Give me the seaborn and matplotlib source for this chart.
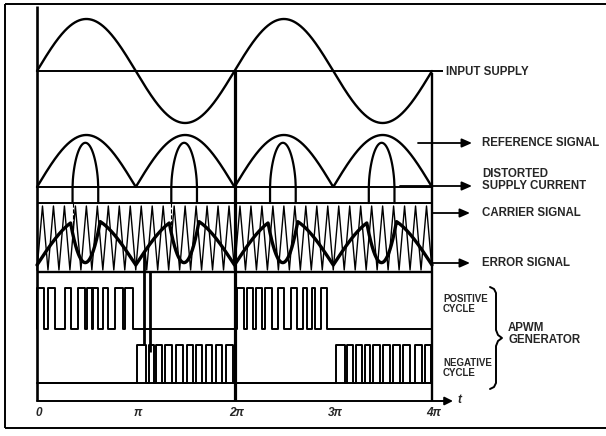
import numpy as np
import pandas as pd
import matplotlib
matplotlib.use("Agg")
import matplotlib.pyplot as plt
import seaborn as sns

sns.set_theme(style="white")
plt.rcParams['font.family'] = ['Liberation Sans Narrow', 'Liberation Sans', 'DejaVu Sans']

# ---------------- data (time in units of pi) ----------------
tick_pos = [0, 1, 2, 3, 4]
tick_labels = ["0", "π", "2π", "3π", "4π"]
axis_label = "t"
signal_labels = ["INPUT SUPPLY", "REFERENCE SIGNAL", "DISTORTED\nSUPPLY CURRENT",
                 "CARRIER SIGNAL", "ERROR SIGNAL"]
gate_labels = ["POSITIVE\nCYCLE", "NEGATIVE\nCYCLE"]
group_label = "APWM\nGENERATOR"

half_cycles = [0, 1, 2, 3]                 # start of each half cycle (pi units)
current_window = [0.36, 0.62]              # conduction interval inside each half cycle
current_peak = 0.85                        # distorted current peak / reference peak
error_window = [0.34, 0.64]                # dip interval of the error signal
error_dip = 0.95                           # depth of the error-signal dip
carrier_teeth_per_pi = 9

pos_pulses = [(0.00, 0.07), (0.11, 0.18), (0.28, 0.34), (0.42, 0.49), (0.51, 0.56),
              (0.57, 0.62), (0.67, 0.72), (0.79, 0.87), (0.89, 0.97),
              (2.03, 2.10), (2.13, 2.19), (2.22, 2.28), (2.31, 2.38), (2.44, 2.50),
              (2.57, 2.63), (2.69, 2.73), (2.78, 2.82), (2.88, 2.94)]
neg_pulses = [(1.01, 1.10), (1.13, 1.18), (1.21, 1.27), (1.30, 1.37), (1.41, 1.48),
              (1.52, 1.58), (1.61, 1.67), (1.71, 1.77), (1.81, 1.87), (1.91, 1.98),
              (3.03, 3.12), (3.14, 3.20), (3.23, 3.29), (3.32, 3.37), (3.40, 3.47),
              (3.50, 3.57), (3.60, 3.68), (3.71, 3.78), (3.83, 3.90), (3.93, 3.99)]

# ---------------- layout (pixel rows) ----------------
W, H = 606, 436
X0, PXPI = 37.0, 98.75
def px(x):
    return (x - X0) / PXPI

IN_BASE, IN_AMP = 71, 52
REF_BASE, REF_AMP = 187, 52
SEP1 = 203
CAR_TOP, CAR_BOT = 206, 270
SEP2 = 272
ERR_BASE, ERR_AMP = 265, 48
POS_TOP, POS_BASE = 288, 329
NEG_TOP, NEG_BASE = 345, 383
AXIS_Y = 401

fig = plt.figure(figsize=(W / 100, H / 100), dpi=100)
ax = fig.add_axes([0, 0, 1, 1])
ax.set_xlim(px(0), px(W))
ax.set_ylim(H, 0)
ax.axis("off")

K = "black"

def draw(df, lw, units=None, ls="-"):
    sns.lineplot(data=df, x="t", y="y", units=units, estimator=None, sort=False,
                 color=K, lw=lw, ls=ls, ax=ax, legend=False)

t = np.linspace(0, 4, 2000)

# input supply
draw(pd.DataFrame({"t": t, "y": IN_BASE - IN_AMP * np.sin(np.pi * t)}), 1.7)

# reference signal (full-wave rectified)
draw(pd.DataFrame({"t": t, "y": REF_BASE - REF_AMP * np.abs(np.sin(np.pi * t))}), 1.7)

# distorted supply current pulses
a, b = current_window
c, w = (a + b) / 2, (b - a) / 2
rows = []
for k in half_cycles:
    u = np.linspace(a, b, 80)
    shape = np.clip(1 - ((u - c) / w) ** 2, 0, 1) ** 0.6
    yy = REF_BASE - REF_AMP * current_peak * shape
    tt = np.concatenate([[k + a], k + u, [k + b]])
    yy = np.concatenate([[SEP1], yy, [SEP1]])
    rows.append(pd.DataFrame({"t": tt, "y": yy, "seg": k}))
draw(pd.concat(rows), 1.6, units="seg")

# carrier (triangle)
tc = np.arange(0, 4 * carrier_teeth_per_pi + 1) / carrier_teeth_per_pi
tc2 = np.sort(np.concatenate([tc, tc[:-1] + 0.5 / carrier_teeth_per_pi]))
ycar = np.where(np.isclose((tc2 * carrier_teeth_per_pi) % 1, 0.5), CAR_TOP, CAR_BOT)
draw(pd.DataFrame({"t": tc2, "y": ycar}), 1.0)

# error signal = reference - distorted current
ea, eb = error_window
ec, ew = (ea + eb) / 2, (eb - ea) / 2
frac = t % 1
pulse = np.where((frac > ea) & (frac < eb), np.clip(1 - ((frac - ec) / ew) ** 2, 0, 1), 0)
err = np.clip(np.abs(np.sin(np.pi * t)) - error_dip * pulse, 0, None)
draw(pd.DataFrame({"t": t, "y": ERR_BASE - ERR_AMP * err}), 2.4)

# gate pulse trains
def pulse_train(edges, lo, hi, base, top):
    xs, ys = [lo], [base]
    for s, e in edges:
        xs += [s, s, e, e]
        ys += [base, top, top, base]
    xs.append(hi); ys.append(base)
    return pd.DataFrame({"t": xs, "y": ys})

draw(pulse_train(pos_pulses, 0, 4, POS_BASE, POS_TOP), 1.4)
draw(pulse_train(neg_pulses, 0, 4, NEG_BASE, NEG_TOP), 1.4)

# frame / grid lines
def hline(y, x1, x2, lw=1.4):
    ax.plot([px(x1), px(x2)], [y, y], color=K, lw=lw, solid_capstyle="butt")
def vline(x, y1, y2, lw=1.4, ls="-"):
    ax.plot([px(x), px(x)], [y1, y2], color=K, lw=lw, ls=ls, solid_capstyle="butt")

hline(IN_BASE, 37, 443)
hline(REF_BASE, 37, 432)
hline(SEP1, 37, 432)
hline(SEP2, 37, 432, 1.7)
hline(NEG_BASE, 37, 432)
vline(37, 6, AXIS_Y, 1.9)
vline(234.5, IN_BASE, AXIS_Y, 2.3)
vline(432, IN_BASE + 2, AXIS_Y, 1.7)
vline(144, 252, 345, 2.0)
vline(150, 272, 352, 2.0)
vline(73, SEP1, 232, 0.8, "--")
vline(171, SEP1, 232, 0.8, "--")

# outer border
hline(4, 5, 606, 1.4)
hline(428, 5, 606, 1.4)
vline(5, 4, 428, 1.4)

# time axis arrow
ax.annotate("", xy=(px(453), AXIS_Y), xytext=(px(37), AXIS_Y),
            arrowprops=dict(arrowstyle="-|>,head_length=0.4,head_width=0.2",
                            color=K, lw=1.4, shrinkA=0, shrinkB=0))
ax.text(px(458), AXIS_Y - 1, axis_label, fontsize=8.5, fontweight="bold",
        ha="left", va="center", style="italic")
for p, lab in zip(tick_pos, tick_labels):
    ax.text(p + 0.02, 413, lab, fontsize=8.5, fontweight="bold", style="italic",
            ha="center", va="center")

# right-hand labels with arrows
def arrow(x1, x2, y):
    ax.annotate("", xy=(px(x2), y), xytext=(px(x1), y),
                arrowprops=dict(arrowstyle="-|>,head_length=0.5,head_width=0.22",
                                color=K, lw=1.3, shrinkA=0, shrinkB=0))

FS = 8.3
ax.text(px(446), IN_BASE + 1, signal_labels[0], fontsize=FS, fontweight="bold",
        ha="left", va="center")
arrow(418, 472, 143)
ax.text(px(482), 143, signal_labels[1], fontsize=FS, fontweight="bold",
        ha="left", va="center")
arrow(400, 472, 186)
ax.text(px(482), 180, signal_labels[2], fontsize=FS, fontweight="bold",
        ha="left", va="center", linespacing=1.0)
arrow(432, 470, 213)
ax.text(px(482), 213, signal_labels[3], fontsize=FS, fontweight="bold",
        ha="left", va="center")
arrow(432, 470, 263)
ax.text(px(482), 263, signal_labels[4], fontsize=FS, fontweight="bold",
        ha="left", va="center")

ax.text(px(443), 304, gate_labels[0], fontsize=7, fontweight="bold",
        ha="left", va="center", linespacing=1.0)
ax.text(px(443), 368, gate_labels[1], fontsize=7, fontweight="bold",
        ha="left", va="center", linespacing=1.0)
ax.text(px(508), 334, group_label, fontsize=FS, fontweight="bold",
        ha="left", va="center", linespacing=1.05)

# curly brace
by = np.array([287, 289, 293, 330, 335, 338, 341, 346, 383, 387, 389])
bx = np.array([490, 494, 496, 496, 498, 502, 498, 496, 496, 494, 490])
ax.plot(px(bx), by, color=K, lw=1.4)

fig.savefig("out.png", dpi=100)
